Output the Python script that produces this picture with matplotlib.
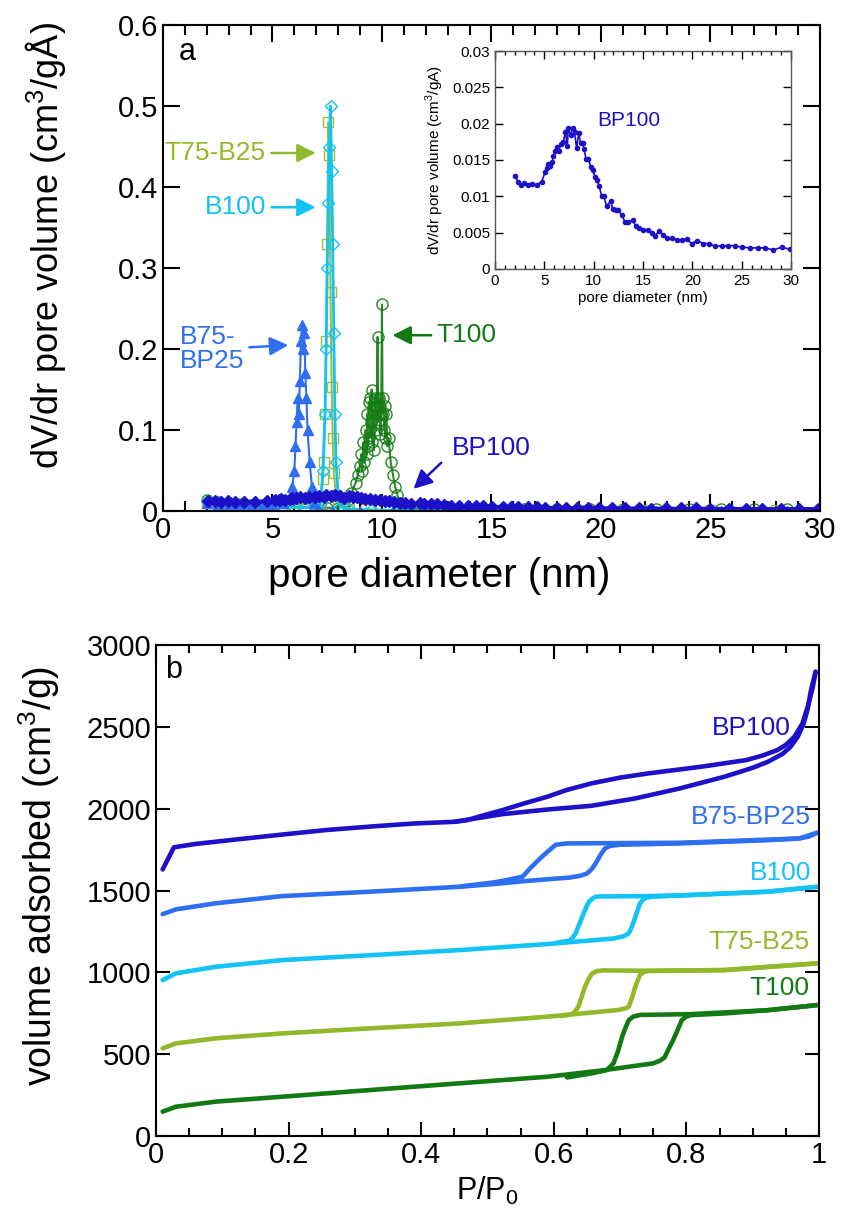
import numpy as np
import matplotlib.pyplot as plt
from matplotlib.ticker import MultipleLocator

plt.rcParams['font.family'] = ['Liberation Sans', 'DejaVu Sans']
plt.rcParams['mathtext.fontset'] = 'custom'
plt.rcParams['mathtext.rm'] = 'Liberation Sans'

c_t75 = '#93b82c'
c_b100 = '#14c3f5'
c_b75 = '#2e6ff2'
c_t100 = '#137a13'
c_bp100 = '#1c10c8'

# ---- panel a: pore size distributions ----
bp100_d = [2.07, 2.36, 2.64, 2.97, 3.31, 3.71, 4.22, 4.73, 5.10, 5.30, 5.40, 5.57, 5.78, 5.91,
           6.08, 6.25, 6.49, 6.66, 6.93, 7.13, 7.33, 7.43, 7.67, 7.87, 8.07, 8.27, 8.48, 8.68,
           8.88, 9.02, 9.22, 9.46, 9.69, 9.90, 10.13, 10.30, 10.57, 10.81, 11.04, 11.31, 11.72,
           11.92, 12.26, 12.50, 12.84, 13.17, 13.51, 13.95, 14.29, 14.63, 15.03, 15.54, 15.88,
           16.21, 16.65, 17.06, 17.46, 17.97, 18.41, 18.92, 19.42, 19.93, 20.50, 21.11, 21.72,
           22.30, 22.97, 23.65, 24.32, 25.00, 25.84, 26.62, 27.36, 28.21, 29.06, 29.90]
bp100_v = [0.0128, 0.0119, 0.0116, 0.0118, 0.0115, 0.0117, 0.0116, 0.0120, 0.0134, 0.0139,
           0.0145, 0.0142, 0.0147, 0.0155, 0.0162, 0.0168, 0.0163, 0.0172, 0.0175, 0.0189,
           0.0169, 0.0194, 0.0184, 0.0194, 0.0188, 0.0166, 0.0187, 0.0174, 0.0174, 0.0165,
           0.0152, 0.0152, 0.0141, 0.0136, 0.0127, 0.0123, 0.0114, 0.0100, 0.0100, 0.0086,
           0.0094, 0.0083, 0.0081, 0.0081, 0.0074, 0.0065, 0.0064, 0.0067, 0.0059, 0.0056,
           0.0053, 0.0054, 0.0050, 0.0046, 0.0052, 0.0047, 0.0043, 0.0042, 0.0040, 0.0040,
           0.0041, 0.0035, 0.0039, 0.0035, 0.0035, 0.0031, 0.0032, 0.0032, 0.0032, 0.0030,
           0.0029, 0.0029, 0.0029, 0.0026, 0.0030, 0.0027]

t100_d = [2.0, 2.5, 3.0, 3.5, 4.0, 4.5, 5.0, 5.5, 6.0, 6.5, 7.0, 7.5, 8.0, 8.2, 8.4, 8.6, 8.8,
          8.9, 9.0, 9.05, 9.1, 9.15, 9.2, 9.25, 9.3, 9.33, 9.36, 9.4, 9.43, 9.46, 9.5, 9.53,
          9.56, 9.6, 9.63, 9.66, 9.7, 9.73, 9.76, 9.8, 9.83, 9.86, 9.9, 9.93, 9.96, 10.0,
          10.03, 10.06, 10.1, 10.13, 10.16, 10.2, 10.25, 10.3, 10.4, 10.5, 10.6, 10.7, 10.8,
          11.0, 12.0, 13.5, 15.0, 16.5, 18.0, 19.5, 21.0, 22.5, 24.0, 25.5, 27.0, 28.5, 30.0]
t100_v = [0.014, 0.011, 0.010, 0.009, 0.008, 0.008, 0.007, 0.006, 0.005, 0.005, 0.004, 0.004,
          0.004, 0.006, 0.012, 0.022, 0.035, 0.045, 0.055, 0.07, 0.05, 0.085, 0.06, 0.1,
          0.07, 0.12, 0.08, 0.135, 0.09, 0.14, 0.11, 0.15, 0.085, 0.125, 0.075, 0.13, 0.14,
          0.10, 0.13, 0.215, 0.11, 0.14, 0.13, 0.095, 0.12, 0.255, 0.12, 0.14, 0.10, 0.13,
          0.09, 0.12, 0.08, 0.09, 0.06, 0.045, 0.03, 0.02, 0.01, 0.004, 0.003, 0.002, 0.002,
          0.002, 0.002, 0.002, 0.002, 0.002, 0.002, 0.002, 0.002, 0.002, 0.002]

t75_d = [2.0, 2.5, 3.0, 3.5, 4.0, 4.5, 5.0, 5.5, 6.0, 6.5, 7.0, 7.2, 7.3, 7.35, 7.4, 7.45,
         7.5, 7.55, 7.6, 7.65, 7.7, 7.75, 7.8, 7.9, 8.0, 8.5, 9.5, 11.0, 13.0, 16.0, 19.0,
         22.0, 25.0, 28.0]
t75_v = [0.010, 0.009, 0.008, 0.007, 0.006, 0.005, 0.005, 0.004, 0.004, 0.004, 0.006, 0.01,
         0.04, 0.06, 0.12, 0.21, 0.33, 0.48, 0.44, 0.27, 0.153, 0.09, 0.047, 0.02, 0.008,
         0.003, 0.002, 0.001, 0.001, 0.001, 0.001, 0.001, 0.001, 0.001]

b100_d = [2.0, 2.5, 3.0, 3.5, 4.0, 4.5, 5.0, 5.5, 6.0, 6.5, 7.0, 7.2, 7.3, 7.4, 7.45, 7.5,
          7.55, 7.6, 7.65, 7.7, 7.75, 7.8, 7.85, 7.9, 8.0, 8.1, 8.5, 9.5, 11.0, 13.0, 16.0,
          19.0, 22.0, 26.0, 29.0]
b100_v = [0.012, 0.010, 0.009, 0.008, 0.007, 0.006, 0.006, 0.005, 0.005, 0.004, 0.006, 0.01,
          0.05, 0.12, 0.20, 0.30, 0.38, 0.45, 0.50, 0.42, 0.33, 0.22, 0.12, 0.06, 0.02, 0.005,
          0.002, 0.001, 0.001, 0.0005, 0.0005, 0.0005, 0.0005, 0.0005, 0.0005]

b75_d = [2.0, 2.5, 3.0, 3.5, 4.0, 4.5, 5.0, 5.5, 5.8, 5.9, 6.0, 6.05, 6.1, 6.15, 6.2, 6.25,
         6.3, 6.35, 6.4, 6.45, 6.5, 6.55, 6.6, 6.7, 6.8, 6.9, 7.1, 7.7, 9.0, 10.5, 12.0, 13.5,
         15.0, 16.5, 18.0, 19.5, 21.0, 22.5, 24.0, 25.5, 27.0, 28.5]
b75_v = [0.010, 0.009, 0.009, 0.008, 0.008, 0.008, 0.009, 0.010, 0.015, 0.03, 0.05, 0.08,
         0.11, 0.14, 0.12, 0.16, 0.21, 0.23, 0.20, 0.22, 0.17, 0.14, 0.10, 0.06, 0.03, 0.01,
         0.002, 0.0, 0.0, 0.0, 0.0, 0.0, 0.0, 0.0, 0.0, 0.0, 0.0, 0.0, 0.0, 0.0, 0.0, 0.0]

# ---- panel b: isotherms (adsorption / desorption) ----
bp100_ads_p = [0.01, 0.027, 0.06, 0.123, 0.19, 0.257, 0.33, 0.39, 0.45, 0.523, 0.59, 0.657,
               0.723, 0.79, 0.857, 0.9, 0.923, 0.945, 0.957, 0.968, 0.977, 0.983, 0.988, 0.995]
bp100_ads_v = [1629, 1764, 1785, 1813, 1842, 1870, 1893, 1910, 1920, 1967, 1995, 2018, 2063,
               2124, 2195, 2250, 2287, 2335, 2378, 2440, 2521, 2610, 2725, 2837]
bp100_des_p = [0.995, 0.99, 0.983, 0.975, 0.963, 0.95, 0.937, 0.915, 0.89, 0.823, 0.743,
               0.7, 0.657, 0.62, 0.59, 0.555, 0.523, 0.49, 0.47, 0.45]
bp100_des_v = [2837, 2730, 2623, 2520, 2440, 2390, 2358, 2325, 2297, 2257, 2216, 2190, 2155,
               2115, 2073, 2032, 1992, 1955, 1931, 1920]

b75_ads_p = [0.01, 0.03, 0.09, 0.19, 0.323, 0.457, 0.51, 0.557, 0.6, 0.623, 0.64, 0.65,
             0.657, 0.663, 0.67, 0.677, 0.685, 0.7, 0.79, 0.923, 0.97, 0.985, 0.997]
b75_ads_v = [1356, 1385, 1422, 1466, 1493, 1523, 1540, 1558, 1572, 1579, 1590, 1604, 1630,
             1665, 1715, 1757, 1773, 1780, 1788, 1808, 1818, 1830, 1853]
b75_des_p = [0.997, 0.97, 0.79, 0.62, 0.603, 0.59, 0.577, 0.563, 0.553, 0.53, 0.51, 0.46]
b75_des_v = [1853, 1818, 1792, 1788, 1780, 1735, 1687, 1630, 1585, 1565, 1550, 1525]

b100_ads_p = [0.01, 0.03, 0.09, 0.19, 0.323, 0.457, 0.59, 0.69, 0.705, 0.713, 0.718, 0.723,
              0.727, 0.73, 0.735, 0.74, 0.75, 0.79, 0.923, 0.997]
b100_ads_v = [953, 994, 1034, 1075, 1105, 1136, 1173, 1207, 1220, 1238, 1280, 1339, 1385,
              1421, 1445, 1457, 1463, 1470, 1493, 1523]
b100_des_p = [0.997, 0.923, 0.79, 0.74, 0.67, 0.663, 0.658, 0.653, 0.648, 0.643, 0.638,
              0.633, 0.628, 0.623, 0.603]
b100_des_v = [1523, 1493, 1470, 1466, 1464, 1462, 1450, 1432, 1390, 1340, 1290, 1238, 1210,
              1193, 1180]

t75_ads_p = [0.01, 0.03, 0.09, 0.19, 0.323, 0.457, 0.59, 0.697, 0.708, 0.713, 0.718, 0.723,
             0.727, 0.73, 0.735, 0.74, 0.857, 0.997]
t75_ads_v = [536, 566, 597, 627, 658, 688, 729, 770, 780, 790, 845, 912, 955, 984, 1000,
             1008, 1014, 1055]
t75_des_p = [0.997, 0.857, 0.74, 0.675, 0.665, 0.657, 0.652, 0.647, 0.642, 0.637, 0.632,
             0.627, 0.61]
t75_des_v = [1055, 1014, 1010, 1012, 1008, 990, 955, 912, 850, 790, 760, 745, 733]

t100_ads_p = [0.01, 0.03, 0.09, 0.19, 0.323, 0.457, 0.59, 0.677, 0.75, 0.76, 0.767, 0.773,
              0.78, 0.787, 0.793, 0.8, 0.807, 0.857, 0.923, 0.997]
t100_ads_v = [149, 179, 210, 240, 281, 322, 362, 403, 444, 460, 480, 530, 586, 650, 708, 730,
              739, 749, 769, 800]
t100_des_p = [0.997, 0.923, 0.807, 0.73, 0.72, 0.713, 0.708, 0.703, 0.697, 0.69, 0.68,
              0.657, 0.62]
t100_des_v = [800, 769, 745, 740, 730, 708, 660, 606, 520, 444, 403, 383, 358]

fig = plt.figure(figsize=(8.41, 12.32), dpi=100)

tick_fs = 21
note_fs = 19


def style_axes(ax, major_len=12, minor_len=7, width=1.5):
    for s in ax.spines.values():
        s.set_linewidth(width)
    ax.tick_params(which='both', direction='in', top=True, right=True, width=width)
    ax.tick_params(which='major', length=major_len)
    ax.tick_params(which='minor', length=minor_len)


# panel a
ax1 = fig.add_axes([0.1938, 0.5852, 0.7812, 0.3945])
ax1.plot(t100_d, t100_v, '-o', color=c_t100, mfc='none', ms=8, mew=1, lw=1.5, alpha=0.9)
ax1.plot(t75_d, t75_v, '-s', color=c_t75, mfc='none', ms=7, mew=1, lw=1.5, alpha=0.9)
ax1.plot(b100_d, b100_v, '-D', color=c_b100, mfc='none', ms=6, mew=1, lw=2)
ax1.plot(b75_d, b75_v, '-^', color=c_b75, ms=7, lw=1.5)
ax1.plot(bp100_d, bp100_v, '-D', color=c_bp100, ms=6, lw=2.5)
ax1.set_xlim(0, 30)
ax1.set_ylim(0, 0.6)
ax1.xaxis.set_major_locator(MultipleLocator(5))
ax1.xaxis.set_minor_locator(MultipleLocator(1))
ax1.set_yticks([0, 0.1, 0.2, 0.3, 0.4, 0.5, 0.6])
ax1.set_yticklabels(['0', '0.1', '0.2', '0.3', '0.4', '0.5', '0.6'])
ax1.tick_params(labelsize=tick_fs)
style_axes(ax1)
ax1.set_xlabel('pore diameter (nm)', fontsize=29)
ax1.xaxis.set_label_coords(0.42, -0.095, transform=ax1.transAxes)
ax1.set_ylabel('dV/dr pore volume (cm$^3$/gÅ)', fontsize=26)
ax1.yaxis.set_label_coords(-0.145, 0.547, transform=ax1.transAxes)
ax1.text(0.037, 0.944, 'a', transform=ax1.transAxes, fontsize=22,
         ha='center', va='center')

arrow = dict(arrowstyle='-|>', lw=1.8, mutation_scale=28)
ax1.annotate('T75-B25', xy=(7.1, 0.442), xytext=(4.7, 0.442), color=c_t75, fontsize=note_fs,
             ha='right', va='center', arrowprops=dict(arrow, color=c_t75))
ax1.annotate('B100', xy=(7.1, 0.375), xytext=(4.7, 0.375), color=c_b100, fontsize=note_fs,
             ha='right', va='center', arrowprops=dict(arrow, color=c_b100))
ax1.annotate('B75-\nBP25', xy=(5.85, 0.205), xytext=(0.75, 0.2), color=c_b75,
             fontsize=note_fs, ha='left', va='center', linespacing=1.0,
             arrowprops=dict(arrow, color=c_b75, relpos=(0.88, 0.52)))
ax1.annotate('T100', xy=(10.35, 0.217), xytext=(12.5, 0.217), color=c_t100, fontsize=note_fs,
             ha='left', va='center', arrowprops=dict(arrow, color=c_t100))
ax1.annotate('', xy=(11.35, 0.025), xytext=(12.8, 0.062),
             arrowprops=dict(arrow, color=c_bp100))
ax1.text(13.2, 0.078, 'BP100', color=c_bp100, fontsize=note_fs, ha='left', va='center')

# inset
axi = fig.add_axes([0.5886, 0.7817, 0.3519, 0.1769])
axi.plot(bp100_d, bp100_v, '-o', color=c_bp100, ms=3, lw=1.2)
axi.set_xlim(0, 30)
axi.set_ylim(0, 0.03)
axi.xaxis.set_major_locator(MultipleLocator(5))
axi.xaxis.set_minor_locator(MultipleLocator(1))
axi.set_yticks([0, 0.005, 0.01, 0.015, 0.02, 0.025, 0.03])
axi.set_yticklabels(['0', '0.005', '0.01', '0.015', '0.02', '0.025', '0.03'])
axi.tick_params(labelsize=11)
style_axes(axi, major_len=6, minor_len=3, width=1.0)
for s in axi.spines.values():
    s.set_color('#555555')
axi.set_xlabel('pore diameter (nm)', fontsize=11, labelpad=2)
axi.set_ylabel('dV/dr pore volume (cm$^3$/gA)', fontsize=11, labelpad=4)
axi.text(10.4, 0.0205, 'BP100', color=c_bp100, fontsize=15, ha='left', va='center')

# panel b
ax2 = fig.add_axes([0.1855, 0.0779, 0.7883, 0.3985])
series = [
    (bp100_ads_p, bp100_ads_v, bp100_des_p, bp100_des_v, c_bp100),
    (b75_ads_p, b75_ads_v, b75_des_p, b75_des_v, c_b75),
    (b100_ads_p, b100_ads_v, b100_des_p, b100_des_v, c_b100),
    (t75_ads_p, t75_ads_v, t75_des_p, t75_des_v, c_t75),
    (t100_ads_p, t100_ads_v, t100_des_p, t100_des_v, c_t100),
]
for ap, av, dp, dv, col in series:
    ax2.plot(ap, av, color=col, lw=3.3, solid_joinstyle='round', solid_capstyle='round')
    ax2.plot(dp, dv, color=col, lw=3.3, solid_joinstyle='round', solid_capstyle='round')
ax2.set_xlim(0, 1)
ax2.set_ylim(0, 3000)
ax2.xaxis.set_minor_locator(MultipleLocator(0.05))
ax2.yaxis.set_major_locator(MultipleLocator(500))
ax2.set_xticks([0, 0.2, 0.4, 0.6, 0.8, 1.0])
ax2.set_xticklabels(['0', '0.2', '0.4', '0.6', '0.8', '1'])
ax2.tick_params(labelsize=tick_fs)
style_axes(ax2, major_len=10, minor_len=6)
ax2.set_xlabel('P/P$_0$', fontsize=22)
ax2.set_ylabel('volume adsorbed (cm$^3$/g)', fontsize=27)
ax2.yaxis.set_label_coords(-0.142, 0.53, transform=ax2.transAxes)
ax2.text(0.027, 0.949, 'b', transform=ax2.transAxes, fontsize=22,
         ha='center', va='center')
for txt, x, y, col in [('BP100', 0.958, 2491, c_bp100), ('B75-BP25', 0.988, 1951, c_b75),
                       ('B100', 0.988, 1605, c_b100), ('T75-B25', 0.985, 1187, c_t75),
                       ('T100', 0.985, 902, c_t100)]:
    ax2.text(x, y, txt, color=col, fontsize=note_fs, ha='right', va='center')

fig.savefig('out.png', dpi=100)
